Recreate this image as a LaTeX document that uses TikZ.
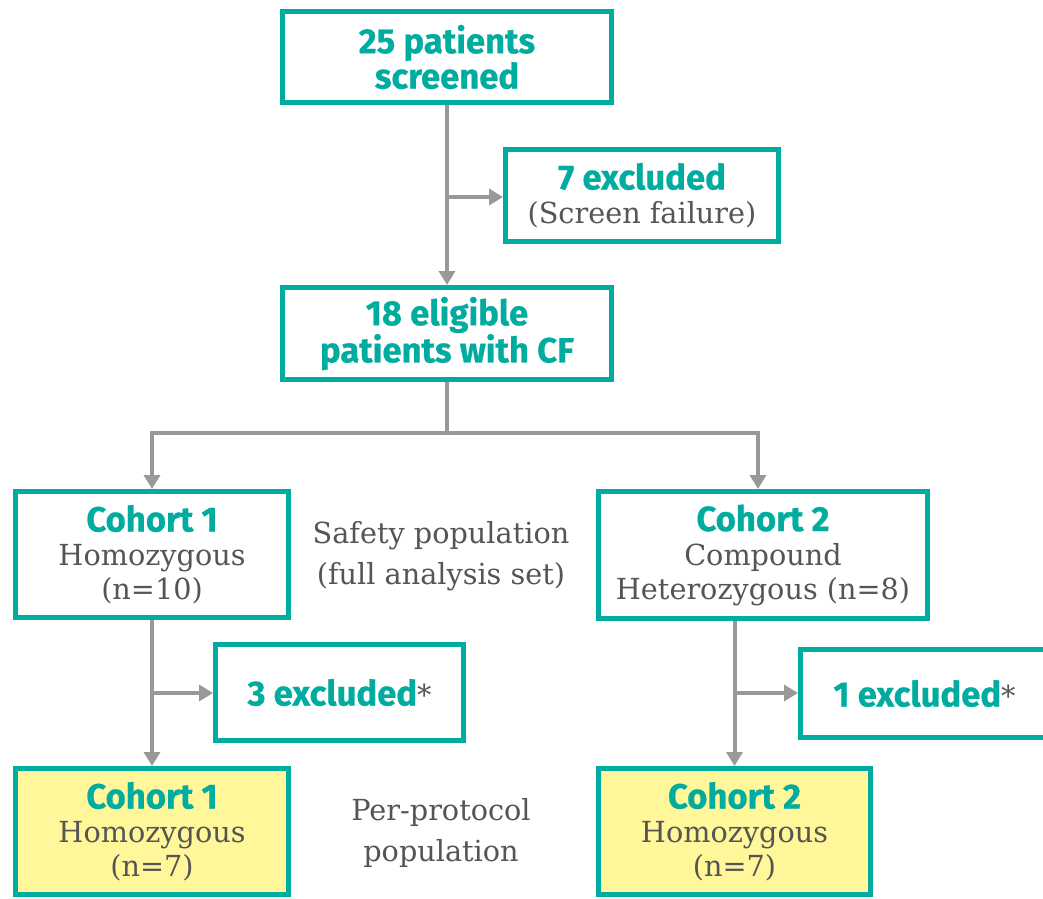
\documentclass[tikz,border=0pt]{standalone}
\usepackage{fontspec}
\usetikzlibrary{arrows.meta}
\newfontfamily\hfont[FakeStretch=0.99,BoldFont=* Bold,BoldFeatures={FakeBold=0.6}]{Fira Sans}
\newfontfamily\sfont[FakeStretch=0.99]{DejaVu Serif}
\definecolor{teal}{HTML}{00AC9F}
\definecolor{txtgrey}{HTML}{555555}
\definecolor{argrey}{HTML}{999999}
\definecolor{ppyel}{HTML}{FFF799}
\newcommand{\hd}[1]{{\hfont\bfseries\color{teal}\fontsize{35}{36}\selectfont #1}}
\begin{document}
\begin{tikzpicture}[x=1pt,y=-1pt,
  box/.style={draw=teal, line width=5pt, fill=white, inner sep=0pt, align=center,
    text=txtgrey, font=\sfont\fontsize{29}{34}\selectfont},
  lbl/.style={align=center, text=txtgrey, font=\sfont\fontsize{29}{41}\selectfont},
  ln/.style={draw=argrey, line width=4pt},
  arr/.style={ln, -{Triangle[length=14pt,width=16pt]}}]
\useasboundingbox (0,0) rectangle (1043,898);
\fill[white] (0,0) rectangle (1043,898);

\node[box, minimum width=329pt, minimum height=91pt] (top) at (447,57) {\hd{25 patients}\\[0pt]\hd{screened}};
\node[box, minimum width=273pt, minimum height=92pt] (ex7) at (642,195.5) {\hd{7 excluded}\\(Screen failure)};
\node[box, minimum width=329pt, minimum height=92pt] (elig) at (447,333.5) {\hd{18 eligible}\\[0pt]\hd{patients with CF}};
\node[box, minimum width=273pt, minimum height=126pt] (c1) at (152,554.5) {\hd{Cohort 1}\\Homozygous\\(n=10)};
\node[box, minimum width=329pt, minimum height=127pt] (c2) at (763,555) {\hd{Cohort 2}\\Compound\\Heterozygous (n=8)};
\node[box, minimum width=248pt, minimum height=96pt] (ex3) at (339.5,692.5) {\hd{3 excluded}*};
\node[box, minimum width=248pt, minimum height=88pt] (ex1) at (924.5,693.5) {\hd{1 excluded}*};
\node[box, fill=ppyel, minimum width=273pt, minimum height=126pt] (pp1) at (152,831.5) {\hd{Cohort 1}\\Homozygous\\(n=7)};
\node[box, fill=ppyel, minimum width=272pt, minimum height=126pt] (pp2) at (734.5,831.5) {\hd{Cohort 2}\\Homozygous\\(n=7)};

\node[lbl] (safety) at (441,556) {Safety population\\(full analysis set)};
\node[lbl] (pp) at (441,833) {Per-protocol\\population};

\coordinate (b1) at (447,197);
\coordinate (s1) at (447,433);
\coordinate (hl) at (152,433);
\coordinate (hr) at (758,433);
\coordinate (b3) at (152,693);
\coordinate (b4) at (735,693);

\draw[arr] (top.south) -- (elig.north);
\draw[arr] (b1) -- (b1 -| ex7.west);
\draw[ln] (elig.south) -- (s1);
\draw[arr] (s1) -- (hl) -- (hl |- c1.north);
\draw[arr] (s1) -- (hr) -- (hr |- c2.north);
\draw[arr] (c1.south) -- (pp1.north);
\draw[arr] (b3) -- (b3 -| ex3.west);
\draw[arr] (c2.south -| pp2.north) -- (pp2.north);
\draw[arr] (b4) -- (b4 -| ex1.west);
\end{tikzpicture}
\end{document}
